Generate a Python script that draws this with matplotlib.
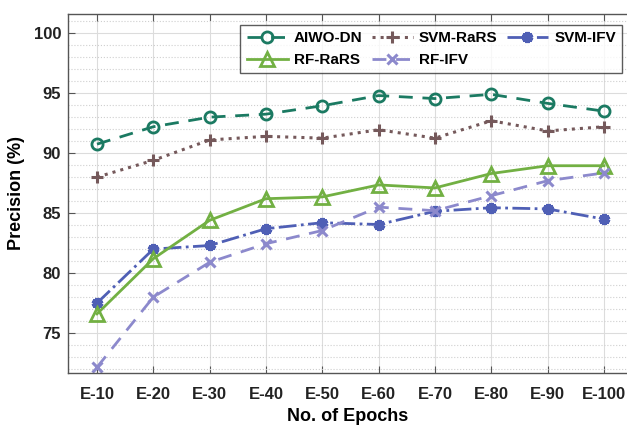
import matplotlib
matplotlib.use("Agg")
import matplotlib.pyplot as plt
from matplotlib.ticker import MultipleLocator

plt.rcParams['font.family'] = ['Liberation Sans', 'DejaVu Sans']
plt.rcParams['font.weight'] = 'bold'

epochs = ['E-10', 'E-20', 'E-30', 'E-40', 'E-50', 'E-60', 'E-70', 'E-80', 'E-90', 'E-100']
aiwo_dn = [90.75, 92.2, 93.0, 93.25, 93.95, 94.8, 94.55, 94.9, 94.15, 93.5]
svm_rars = [88.0, 89.4, 91.1, 91.4, 91.25, 91.95, 91.25, 92.7, 91.85, 92.2]
svm_ifv = [77.5, 82.0, 82.3, 83.7, 84.2, 84.05, 85.15, 85.45, 85.35, 84.5]
rf_rars = [76.6, 81.2, 84.4, 86.2, 86.35, 87.35, 87.1, 88.3, 88.95, 88.95]
rf_ifv = [72.15, 78.0, 80.9, 82.45, 83.55, 85.5, 85.2, 86.45, 87.7, 88.35]

x = list(range(1, len(epochs) + 1))

fig = plt.figure(figsize=(6.27, 4.26), dpi=100)
ax = fig.add_axes([68 / 627, 53 / 426, 1 - 68 / 627, (373 - 14) / 426])

l1, = ax.plot(x, aiwo_dn, color='#1b7a62', linestyle=(0, (5, 3.5)), linewidth=2,
              marker='o', markersize=8, markerfacecolor='none', markeredgewidth=2,
              label='AIWO-DN')
l2, = ax.plot(x, svm_rars, color='#75595b', linestyle=':', linewidth=2.2,
              marker='+', markersize=9, markeredgewidth=2.2, label='SVM-RaRS')
l3, = ax.plot(x, svm_ifv, color='#4f5fb5', linestyle='-.', linewidth=2,
              marker=(6, 2, 0), markersize=8, markeredgewidth=3, label='SVM-IFV')
l4, = ax.plot(x, rf_rars, color='#72b043', linestyle='-', linewidth=2,
              marker='^', markersize=10, markerfacecolor='none', markeredgewidth=2,
              label='RF-RaRS')
l5, = ax.plot(x, rf_ifv, color='#8c89cc', linestyle=(0, (5, 3.5)), linewidth=2,
              marker='x', markersize=7, markeredgewidth=2.2, label='RF-IFV')

ax.set_xlim(0.485, 10.41)
ax.set_ylim(71.67, 101.6)
ax.set_xticks(x)
ax.set_xticklabels(epochs)
ax.yaxis.set_major_locator(MultipleLocator(5))
ax.yaxis.set_minor_locator(MultipleLocator(1))

ax.grid(True, which='major', color='#dcdcdc', linewidth=0.8)
ax.grid(True, which='minor', axis='y', color='#cfcfcf', linestyle=':', linewidth=0.8)
ax.set_axisbelow(True)

ax.spines['right'].set_visible(False)
for s in ['left', 'top', 'bottom']:
    ax.spines[s].set_color('#555555')
    ax.spines[s].set_linewidth(1)
ax.tick_params(axis='both', which='major', direction='in', length=5, color='#555555',
               labelsize=12, top=True, pad=10)
ax.tick_params(axis='y', which='minor', length=0)
ax.tick_params(axis='y', pad=5)
for lab in ax.get_xticklabels() + ax.get_yticklabels():
    lab.set_fontweight('bold')
    lab.set_color('#222222')

ax.set_xlabel('No. of Epochs', fontsize=13, fontweight='bold', labelpad=4.5)
ax.set_ylabel('Precision (%)', fontsize=13, fontweight='bold', labelpad=6)

# row-major order: matplotlib fills legend columns first
leg = ax.legend([l1, l4, l2, l5, l3], ['AIWO-DN', 'RF-RaRS', 'SVM-RaRS', 'RF-IFV', 'SVM-IFV'],
                ncol=3, loc='upper right', bbox_to_anchor=(0.991, 0.969), borderaxespad=0,
                fontsize=11, frameon=True, fancybox=False, edgecolor='#333333',
                handlelength=2.7, columnspacing=0.6, handletextpad=0.4,
                borderpad=0.4, labelspacing=0.5)
leg.get_frame().set_linewidth(1)
for t in leg.get_texts():
    t.set_fontweight('bold')

fig.savefig('out.png', dpi=100)
